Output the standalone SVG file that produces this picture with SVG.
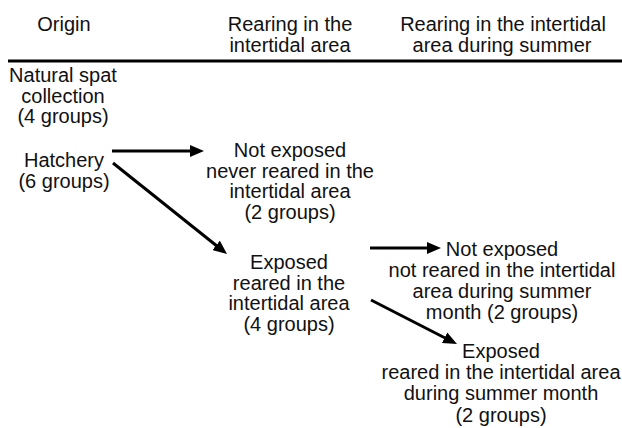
<svg xmlns="http://www.w3.org/2000/svg" width="622" height="428" viewBox="0 0 622 428">
  <style>
    text { font-family: "Liberation Sans", Arial, sans-serif; font-size: 20px; fill: #111; text-anchor: middle; }
    .arrow { stroke: #000; stroke-width: 3; fill: none; marker-end: url(#head); }
  </style>
  <defs>
    <marker id="head" markerUnits="userSpaceOnUse" markerWidth="14" markerHeight="12" viewBox="0 0 14 12" refX="5" refY="6" orient="auto">
      <path d="M0,0 L14,6 L0,12 z" fill="#000"/>
    </marker>
  </defs>
  <rect width="622" height="428" fill="#fff"/>

  <g id="header">
    <text x="64" y="31">Origin</text>
    <text x="290" y="31">Rearing in the</text>
    <text x="290" y="52">intertidal area</text>
    <text x="503" y="31">Rearing in the intertidal</text>
    <text x="502" y="52">area during summer</text>
    <line x1="8" y1="61" x2="622" y2="61" stroke="#000" stroke-width="3"/>
  </g>

  <g id="natural">
    <text x="63" y="82">Natural spat</text>
    <text x="63" y="102.5">collection</text>
    <text x="63" y="123">(4 groups)</text>
  </g>

  <g id="hatchery">
    <text x="64" y="167">Hatchery</text>
    <text x="64" y="188">(6 groups)</text>
  </g>

  <g id="not-exposed-1">
    <text x="290" y="157">Not exposed</text>
    <text x="290" y="178">never reared in the</text>
    <text x="290" y="198">intertidal area</text>
    <text x="290" y="219">(2 groups)</text>
  </g>

  <g id="exposed-1">
    <text x="289" y="269">Exposed</text>
    <text x="289" y="290">reared in the</text>
    <text x="289" y="310">intertidal area</text>
    <text x="289" y="331">(4 groups)</text>
  </g>

  <g id="not-exposed-2">
    <text x="502" y="256">Not exposed</text>
    <text x="502" y="277">not reared in the intertidal</text>
    <text x="502" y="298">area during summer</text>
    <text x="502" y="319">month (2 groups)</text>
  </g>

  <g id="exposed-2">
    <text x="501" y="358">Exposed</text>
    <text x="501" y="379">reared in the intertidal area</text>
    <text x="501" y="400">during summer month</text>
    <text x="501" y="422">(2 groups)</text>
  </g>

  <g id="connectors">
    <line class="arrow" x1="112" y1="151" x2="195" y2="151"/>
    <line class="arrow" x1="113" y1="163" x2="220" y2="248.5"/>
    <line class="arrow" x1="370" y1="248" x2="432" y2="248"/>
    <line class="arrow" x1="371" y1="300" x2="449" y2="340"/>
  </g>
</svg>
